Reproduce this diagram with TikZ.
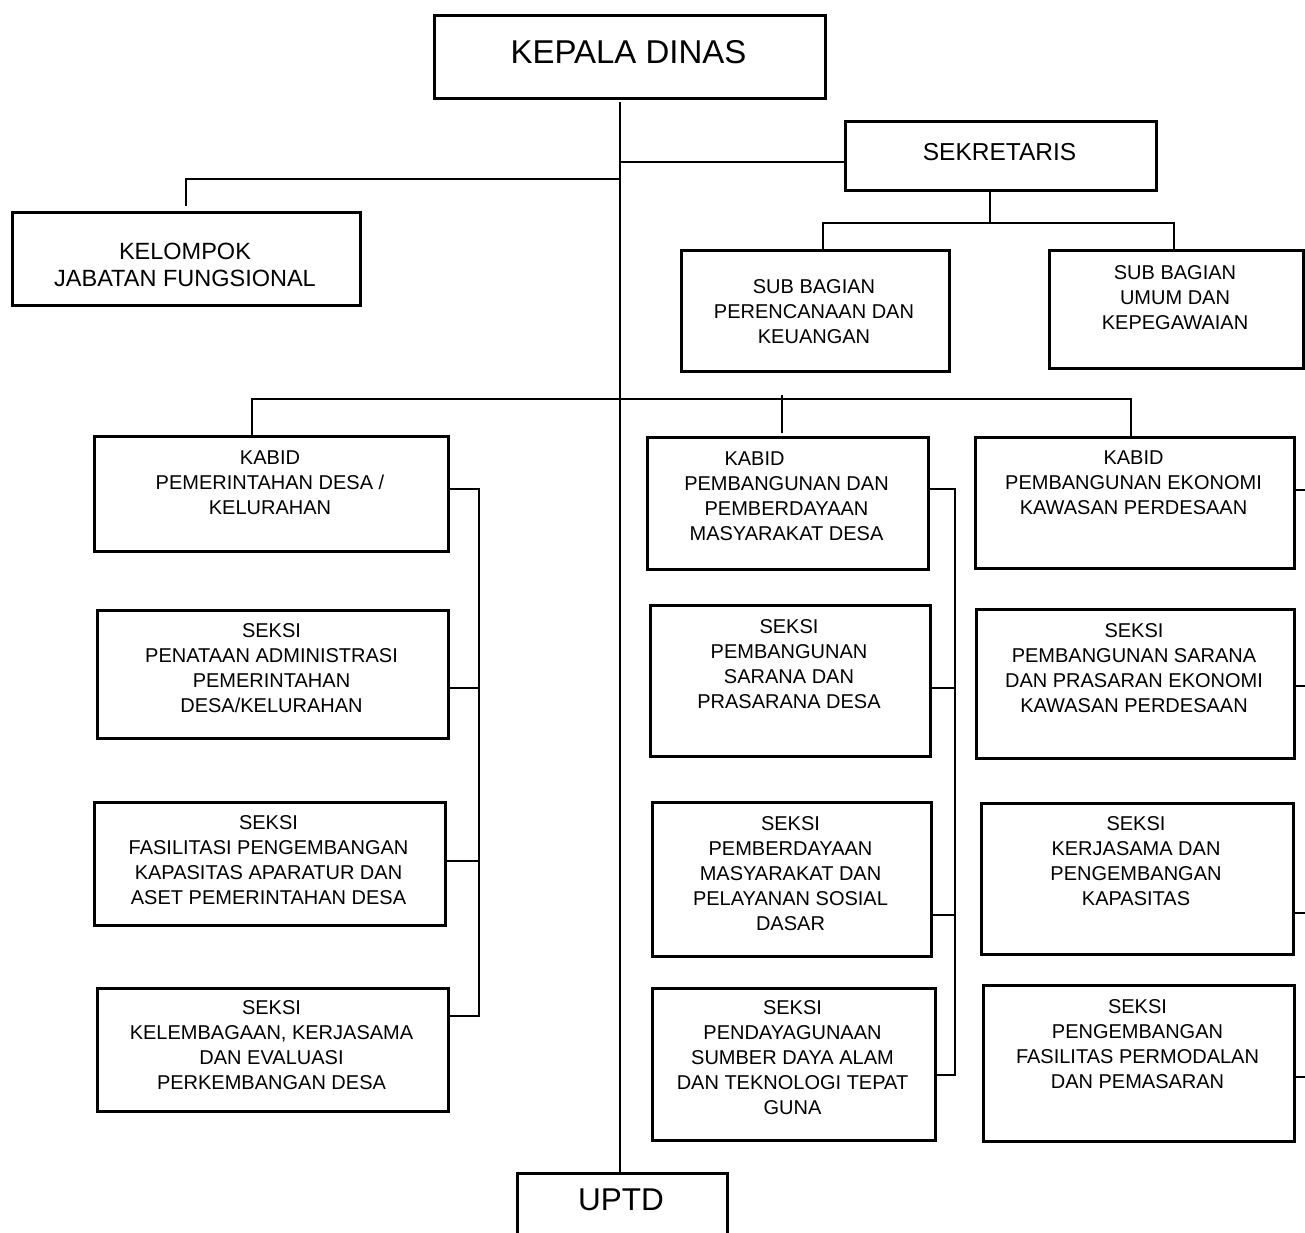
\documentclass[tikz,border=0pt]{standalone}
\usepackage{fontspec}
\setmainfont{Liberation Sans}
\newcommand\fsz[2]{\fontsize{#1}{#2}\selectfont}
\tikzset{
  obox/.style={draw, line width=2.8pt, inner sep=0pt},
  otext/.style={inner sep=0pt, align=center},
  conn/.style={line width=2.8pt, line cap=rect}
}
% name, x1, y1, x2, y2, text centre y, font, text
\newcommand\onebox[8]{%
  \node[obox, minimum width={#4-#2}, minimum height={#5-#3}, anchor=north west] (#1) at (#2,#3) {};
  \node[otext, font=#7] (#1t) at ({(#2+#4)/2},#6) {#8};}
% name, x1, y1, x2, y2, first line centre y, font, text
\newcommand\multibox[8]{%
  \node[obox, minimum width={#4-#2}, minimum height={#5-#3}, anchor=north west] (#1) at (#2,#3) {};
  \node[otext, font=#7, anchor=north] (#1t) at ({(#2+#4)/2},{#6-8}) {\rule{0pt}{15pt}#8};}
\begin{document}
\begin{tikzpicture}[x=1pt,y=-1pt]
\fill[white] (0,0) rectangle (1305,1232);
\useasboundingbox (0,0) rectangle (1305,1232);

\onebox{kepala}{433}{14}{824}{97}{52}{\fsz{33}{38}}{KEPALA DINAS}
\onebox{sek}{844}{120}{1155}{189}{152}{\fsz{24.5}{29}}{SEKRETARIS}
\onebox{uptd}{516}{1172}{726}{1262}{1200}{\fsz{31.5}{36}}{UPTD}

\multibox{kel}{11}{211}{359}{304}{251}{\fsz{23.5}{27}}{KELOMPOK\\JABATAN FUNGSIONAL}
\multibox{subPK}{680}{249}{948}{370}{286}{\fsz{20}{25}}{SUB BAGIAN\\PERENCANAAN DAN\\KEUANGAN}
\multibox{subUK}{1048}{249}{1302}{367}{272}{\fsz{20}{25}}{SUB BAGIAN\\UMUM DAN\\KEPEGAWAIAN}

\multibox{kabidPD}{93}{435}{447}{550}{457}{\fsz{20}{25}}{KABID\\PEMERINTAHAN DESA /\\KELURAHAN}
\multibox{seksiPA}{96}{609}{447}{737}{630}{\fsz{20}{25}}{SEKSI\\PENATAAN ADMINISTRASI\\PEMERINTAHAN\\DESA/KELURAHAN}
\multibox{seksiFP}{93}{801}{444}{924}{822}{\fsz{20}{25}}{SEKSI\\FASILITASI PENGEMBANGAN\\KAPASITAS APARATUR DAN\\ASET PEMERINTAHAN DESA}
\multibox{seksiKK}{96}{987}{447}{1110}{1007}{\fsz{20}{25}}{SEKSI\\KELEMBAGAAN, KERJASAMA\\DAN EVALUASI\\PERKEMBANGAN DESA}

\multibox{kabidPPM}{646}{436}{927}{568}{458}{\fsz{20}{25}}{KABID\hspace*{64pt}\\PEMBANGUNAN DAN\\PEMBERDAYAAN\\MASYARAKAT DESA}
\multibox{seksiPSP}{649}{604}{929}{755}{626}{\fsz{20}{25}}{SEKSI\\PEMBANGUNAN\\SARANA DAN\\PRASARANA DESA}
\multibox{seksiPM}{651}{801}{930}{955}{823}{\fsz{20}{25}}{SEKSI\\PEMBERDAYAAN\\MASYARAKAT DAN\\PELAYANAN SOSIAL\\DASAR}
\multibox{seksiPSDA}{651}{987}{934}{1139}{1007}{\fsz{20}{25}}{SEKSI\\PENDAYAGUNAAN\\SUMBER DAYA ALAM\\DAN TEKNOLOGI TEPAT\\GUNA}

\multibox{kabidPEK}{974}{436}{1293}{567}{457}{\fsz{20}{25}}{KABID\\PEMBANGUNAN EKONOMI\\KAWASAN PERDESAAN}
\multibox{seksiPSPE}{975}{608}{1293}{757}{630}{\fsz{20}{25}}{SEKSI\\PEMBANGUNAN SARANA\\DAN PRASARAN EKONOMI\\KAWASAN PERDESAAN}
\multibox{seksiKPK}{980}{802}{1292}{953}{823}{\fsz{20}{25}}{SEKSI\\KERJASAMA DAN\\PENGEMBANGAN\\KAPASITAS}
\multibox{seksiPFP}{982}{984}{1293}{1140}{1006}{\fsz{20}{25}}{SEKSI\\PENGEMBANGAN\\FASILITAS PERMODALAN\\DAN PEMASARAN}

% trunk
\coordinate (t0) at (620,103);
\draw[conn] (t0) -- (t0 |- uptd.north);
\coordinate (jS) at (620,162);
\draw[conn] (jS) -- (jS -| sek.west);
\coordinate (jK) at (620,179);
\coordinate (kD) at (186,205);
\draw[conn] (jK) -| (kD);

% sekretaris
\coordinate (s0) at (990,193);
\coordinate (s1) at (990,223);
\draw[conn] (s0) -- (s1);
\coordinate (sL) at (823,223);
\coordinate (sR) at (1174,223);
\draw[conn] (sL) -- (sR);
\draw[conn] (sL) -- (sL |- subPK.north);
\draw[conn] (sR) -- (sR |- subUK.north);

% kabid bar
\coordinate (kL) at (252,399);
\coordinate (kR) at (1131,399);
\coordinate (kM) at (782,396);
\draw[conn] (kL) -- (kR);
\draw[conn] (kL) -- (kL |- kabidPD.north);
\draw[conn] (kR) -- (kR |- kabidPEK.north);
\draw[conn] (kM) -- ([yshift=4pt]kM |- kabidPPM.north);

% left bus
\coordinate (lT) at (479,489);
\coordinate (l1) at (479,688);
\coordinate (l2) at (479,861);
\coordinate (lB) at (479,1016);
\draw[conn] (kabidPD.east |- lT) -- (lT) -- (lB) -- (lB -| seksiKK.east);
\draw[conn] (l1) -- (l1 -| seksiPA.east);
\draw[conn] (l2) -- (l2 -| seksiFP.east);

% middle bus
\coordinate (mT) at (955,489);
\coordinate (m1) at (955,688);
\coordinate (m2) at (955,915);
\coordinate (mB) at (955,1075);
\draw[conn] (kabidPPM.east |- mT) -- (mT) -- (mB) -- (mB -| seksiPSDA.east);
\draw[conn] (m1) -- (m1 -| seksiPSP.east);
\draw[conn] (m2) -- (m2 -| seksiPM.east);

% right stubs
\coordinate (r0) at (1305,490);
\coordinate (r1) at (1305,686);
\coordinate (r2) at (1305,913);
\coordinate (r3) at (1305,1077);
\draw[conn] (r0) -- (r0 -| kabidPEK.east);
\draw[conn] (r1) -- (r1 -| seksiPSPE.east);
\draw[conn] (r2) -- (r2 -| seksiKPK.east);
\draw[conn] (r3) -- (r3 -| seksiPFP.east);
\end{tikzpicture}
\end{document}
